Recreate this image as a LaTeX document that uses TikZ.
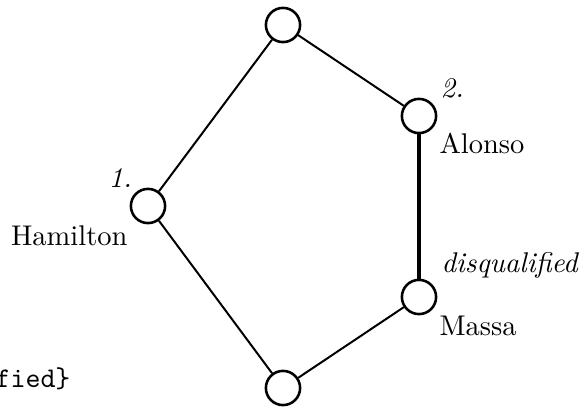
\documentclass[tikz,border=0pt]{standalone}
\begin{document}
\begin{tikzpicture}[x=0.351pt,y=-0.351pt,
  vert/.style={circle,draw,line width=0.9pt,minimum size=12pt,inner sep=0pt},
  edge/.style={line width=0.7pt},
  heavy/.style={line width=1.5pt},
  lab/.style={inner sep=0pt,anchor=base west}]
\useasboundingbox (0,0) rectangle (581,407);
\node[vert] (t) at (283,25) {};
\node[vert] (a) at (419,116) {};
\node[vert] (h) at (148,206) {};
\node[vert] (m) at (419,297) {};
\node[vert] (b) at (283,388) {};
\draw[edge] (h) -- (t);
\draw[edge] (t) -- (a);
\draw[heavy] (a) -- (m);
\draw[edge] (m) -- (b);
\draw[edge] (b) -- (h);
\node[lab] (l1) at (108,188) {\itshape 1.};
\node[lab,anchor=base east] (lh) at (128,246) {Hamilton};
\node[lab] (l2) at (440,98) {\itshape 2.};
\node[lab] (la) at (439,154) {Alonso};
\node[lab] (ld) at (441,273) {\itshape disqualified};
\node[lab] (lm) at (439,336) {Massa};
\node[lab,anchor=base east] (lf) at (71,388) {\ttfamily fied\}};
\end{tikzpicture}
\end{document}
